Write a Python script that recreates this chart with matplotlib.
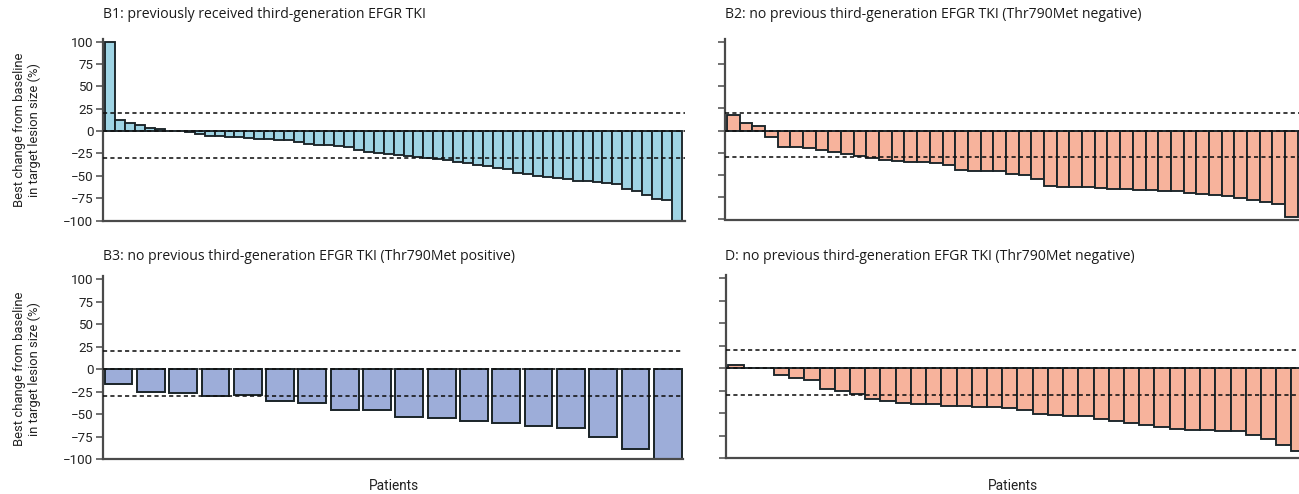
import matplotlib
matplotlib.use("Agg")
import matplotlib.pyplot as plt

# Best change from baseline in target lesion size (%), one value per patient
b1_values = [100, 12, 9.3, 6.3, 3.7, 1.9, 0, 0, -1, -3, -5, -5.6, -6.7, -6.7,
             -7.8, -9.3, -9.3, -10, -10.5, -12.3, -14.2, -15, -16, -16.8, -17.9,
             -20.9, -23, -24, -25.4, -26.5, -28.4, -29, -30.2, -31.7, -32.8,
             -34.7, -35.8, -37.7, -39, -41, -42, -46.6, -48.5, -50.4, -51.5,
             -52.6, -54, -55.6, -56.3, -57, -58.2, -59.7, -65.3, -67.2, -72,
             -76.5, -77.6, -100]
b2_values = [18, 9, 5, -7, -19, -19, -20, -22, -24, -26, -29, -31, -33, -34, -35,
             -35, -37, -39, -44, -45, -45, -46, -48.5, -50, -54, -62, -63, -63,
             -63, -65, -66, -66, -67, -67, -68, -68, -70, -71, -73, -74, -76,
             -78, -80, -83, -97]
b3_values = [-16.7, -25, -27, -29.5, -29, -35, -37.4, -46, -46, -53, -54, -58,
             -59.6, -63, -65, -76, -88.5, -100]
d_values = [4, 0, 0, -7.4, -10.7, -13, -23, -26, -28.5, -34, -37, -38.5, -39.6,
            -39.6, -42.6, -42.6, -43.7, -43.7, -44.4, -46.3, -50.7, -52.6, -53.7,
            -53.7, -56.3, -59.3, -61, -63, -65.6, -67.4, -69.3, -69.3, -70, -70,
            -74.8, -79.3, -86, -92.6]

titles = ["B1: previously received third-generation EFGR TKI",
          "B2: no previous third-generation EFGR TKI (Thr790Met negative)",
          "B3: no previous third-generation EFGR TKI (Thr790Met positive)",
          "D: no previous third-generation EFGR TKI (Thr790Met negative)"]
y_ticks = [100, 75, 50, 25, 0, -25, -50, -75, -100]
ref_lines = [20, 0, -30]
ylabel = "Best change from baseline\nin target lesion size (%)"
xlabel = "Patients"

BLUE = "#9fd4e4"
SALMON = "#f7b39c"
PERIWINKLE = "#9dadd9"
EDGE = "#1a2428"
SPINE = "#4a4a4a"
TEXT = "#222222"

W, H = 1299, 494
fig = plt.figure(figsize=(W / 100, H / 100), dpi=100)

LABEL_FONT = ["Roboto", "DejaVu Sans"]
TITLE_FONT = ["Open Sans", "DejaVu Sans"]


def add_axes_px(left, right, top, bottom):
    return fig.add_axes([left / W, 1 - bottom / H, (right - left) / W, (bottom - top) / H])


def fig_text(x, y, s, **kw):
    return fig.text(x / W, 1 - y / H, s, **kw)


def draw_panel(ax, values, color, xlim, width, align, show_labels, lw=1.35):
    x = list(range(len(values)))
    ax.bar(x, values, width=width, align=align, color=color,
           edgecolor=EDGE, linewidth=lw, zorder=2)
    for yv in ref_lines:
        ax.axhline(yv, color="#111111", linestyle=(0, (2.6, 2.0)),
                   linewidth=1.15, zorder=3)
    ax.set_xlim(*xlim)
    ax.set_ylim(-100, 103)
    ax.set_yticks(y_ticks)
    ax.set_xticks([])
    for s in ("top", "right"):
        ax.spines[s].set_visible(False)
    for s in ("left", "bottom"):
        ax.spines[s].set_color(SPINE)
        ax.spines[s].set_linewidth(1.6)
    ax.spines["left"].set_bounds(-100, 103)
    ax.tick_params(axis="y", direction="out", length=5, width=1.1, color=SPINE,
                   pad=2, labelsize=9.6, labelcolor=TEXT)
    if show_labels:
        for lab in ax.get_yticklabels():
            lab.set_family(LABEL_FONT)
    else:
        ax.set_yticklabels([])


ax_b1 = add_axes_px(103, 685, 39, 220.5)
ax_b2 = add_axes_px(725, 1299, 39, 219.5)
ax_b3 = add_axes_px(103, 683, 276.5, 459)
ax_d = add_axes_px(726, 1299, 275.5, 458)

draw_panel(ax_b1, b1_values, BLUE, (-0.72, 57.8), 1.0, "center", True)
draw_panel(ax_b2, b2_values, SALMON, (-0.65, 44.6), 1.0, "center", False)
draw_panel(ax_b3, b3_values, PERIWINKLE, (-0.05, 17.9), 0.86, "edge", True, lw=1.4)
draw_panel(ax_d, d_values, SALMON, (-0.65, 37.0), 1.0, "center", False)

# Panel titles
title_pos = [(103, 14), (725, 14), (103, 256), (725, 256)]
for (tx, ty), title in zip(title_pos, titles):
    fig_text(tx, ty, title, ha="left", va="center", fontsize=10.1,
             family=TITLE_FONT, color="#1a1a1a")

# Shared y-axis labels on the left column
for cy in (130, 369):
    fig_text(27, cy, ylabel, ha="center", va="center", rotation=90,
             fontsize=9.4, family=LABEL_FONT, color=TEXT, linespacing=1.2)

# x-axis labels under the bottom row
for cx in (394, 1013):
    fig_text(cx, 486, xlabel, ha="center", va="center", fontsize=9.8,
             family=LABEL_FONT, color=TEXT)

fig.savefig("out.png", dpi=100, facecolor="white")
